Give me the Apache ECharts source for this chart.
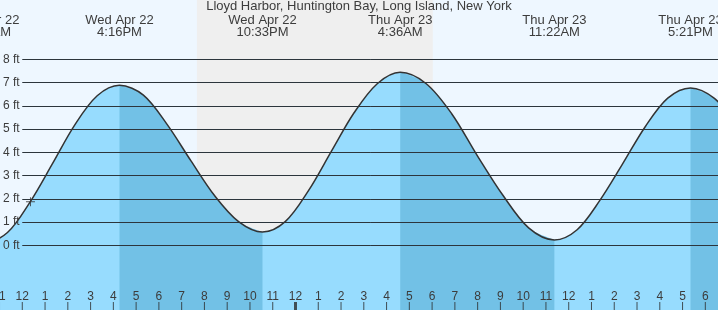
<!DOCTYPE html>
<html><head><meta charset="utf-8">
<script src="https://cdn.jsdelivr.net/npm/echarts@6/dist/echarts.min.js"></script>
<style>html,body{margin:0;padding:0;background:#eef7ff}#c{width:718px;height:310px}</style>
</head><body><div id="c"></div>
<script>
// ---- data (hours counted from 00:00 Wed Apr 22) ----
const chartTitle = 'Lloyd Harbor, Huntington Bay, Long Island, New York';
const tideTimes   = [8.27, 9.32, 10.37, 11.35, 12.34, 13.32, 14.30, 15.29, 16.27, 17.32, 18.36, 19.41, 20.46, 21.50, 22.55, 23.56, 24.57, 25.58, 26.58, 27.59, 28.6, 29.73, 30.86, 31.99, 33.11, 34.24, 35.37, 36.37, 37.36, 38.36, 39.36, 40.35, 41.35, 42.4, 43.4];
const tideHeights = [1.82, 0.58, 0.12, 0.55, 1.86, 3.50, 5.17, 6.43, 6.88, 6.46, 5.20, 3.63, 2.12, 1.02, 0.57, 1.03, 2.35, 4.05, 5.71, 6.95, 7.44, 6.96, 5.66, 3.85, 2.15, 0.75, 0.23, 0.67, 1.92, 3.49, 5.10, 6.33, 6.77, 6.32, 5.17];
const extremeTimes   = [10.37, 16.27, 22.55, 28.6, 35.37, 41.35];
const extremeHeights = [0.12, 6.88, 0.57, 7.44, 0.23, 6.77];
const extremeTypes   = ['low', 'high', 'low', 'high', 'low', 'high'];
const extremeLabels  = ['Wed Apr 22\n10:22AM', 'Wed Apr 22\n4:16PM', 'Wed Apr 22\n10:33PM', 'Thu Apr 23\n4:36AM', 'Thu Apr 23\n11:22AM', 'Thu Apr 23\n5:21PM'];
const hourTicks = [9,10,11,12,13,14,15,16,17,18,19,20,21,22,23,24,25,26,27,28,29,30,31,32,33,34,35,36,37,38,39,40,41,42];
const midnightTicks = [24];
const feetTicks = [0, 1, 2, 3, 4, 5, 6, 7, 8];
const nightStart = 19.67, nightEnd = 30.03;
const nowTime = 12.36, nowHeight = 1.87;
const gridLineStart = 12;

// ---- view ----
const xMin = 8.386, xMax = 42.557, yMin = -2.783, yMax = 10.55;
const TICK_PX = 8;
const FONT = 'Liberation Sans, Arial, sans-serif';
const TXT = '#3c3c3c';
const SMOOTH = 0.33;

const curve = tideTimes.map((t, i) => [t, tideHeights[i]]);
const fallingRanges = [];
extremeTimes.forEach((t, i) => {
  if (extremeTypes[i] === 'high') fallingRanges.push([t, i + 1 < extremeTimes.length ? extremeTimes[i + 1] : 99]);
});
const inFalling = t => fallingRanges.some(r => t >= r[0] - 1e-9 && t <= r[1] + 1e-9);
const fallingCurve = curve.map(p => inFalling(p[0]) ? p : [p[0], '-']);

const hourFmt = v => { const h = Math.round(v) % 12; return String(h === 0 ? 12 : h); };
const extremeFmt = v => { const i = extremeTimes.findIndex(t => Math.abs(t - v) < 1e-6); return i >= 0 ? extremeLabels[i] : ''; };

const chart = echarts.init(document.getElementById('c'), null, {renderer: 'canvas'});
chart.setOption({
  animation: false,
  backgroundColor: '#eef7ff',
  title: {text: chartTitle, left: 'center', top: 0, padding: 0, z: 20,
    textStyle: {fontSize: 13, fontWeight: 'normal', color: TXT, fontFamily: FONT}},
  grid: {left: -60, right: 0, top: 0, bottom: 0, outerBoundsMode: 'none', containLabel: false},
  xAxis: [
    {type: 'value', min: xMin, max: xMax, position: 'bottom', z: 20,
      axisLine: {show: false, onZero: false}, splitLine: {show: false}, axisTick: {show: false},
      axisLabel: {show: true, inside: true, margin: 7, customValues: hourTicks, formatter: hourFmt,
        color: TXT, fontSize: 12, fontFamily: FONT, hideOverlap: false}},
    {type: 'value', min: xMin, max: xMax, position: 'top', z: 20,
      axisLine: {show: false, onZero: false}, splitLine: {show: false}, axisTick: {show: false},
      axisLabel: {show: true, inside: true, margin: 14, customValues: extremeTimes, formatter: extremeFmt,
        color: TXT, fontSize: 13, lineHeight: 12, fontFamily: FONT, align: 'center', hideOverlap: false}}
  ],
  yAxis: {type: 'value', min: yMin, max: yMax, z: 20,
    axisLine: {show: false, onZero: false}, axisTick: {show: false}, splitLine: {show: false},
    axisLabel: {show: true, inside: true, margin: 63, customValues: feetTicks, formatter: v => v + ' ft',
      color: TXT, fontSize: 12, fontFamily: FONT}},
  series: [
    {type: 'line', data: [], z: 1, silent: true,
      markArea: {silent: true, itemStyle: {color: '#efefef'}, data: [[{xAxis: nightStart}, {xAxis: nightEnd}]]},
      markLine: {silent: true, symbol: ['none', 'none'], label: {show: false},
        lineStyle: {color: '#333', width: 1, type: 'solid'},
        data: feetTicks.map(v => [{coord: [gridLineStart, v]}, {coord: [xMax, v]}])}},
    {type: 'line', data: curve, z: 2, smooth: SMOOTH, showSymbol: false, silent: true,
      lineStyle: {width: 0}, areaStyle: {color: '#97dcfe', opacity: 1, origin: 'start'}},
    {type: 'line', data: fallingCurve, z: 3, smooth: SMOOTH, showSymbol: false, silent: true,
      connectNulls: false, lineStyle: {width: 0}, areaStyle: {color: '#72c1e6', opacity: 1, origin: 'start'}},
    {type: 'line', data: [], z: 4, silent: true,
      markLine: {silent: true, symbol: ['none', 'none'], label: {show: false},
        lineStyle: {color: 'rgba(0,70,120,0.13)', width: 1, type: 'solid'},
        data: feetTicks.map(v => [{coord: [gridLineStart, v]}, {coord: [xMax, v]}])}},
    {type: 'line', data: curve, z: 5, smooth: SMOOTH, showSymbol: false, silent: true,
      lineStyle: {color: '#333', width: 1.5}},
    {type: 'scatter', data: hourTicks.map(t => [t, yMin]), z: 6, silent: true, clip: false,
      symbol: 'rect', itemStyle: {color: '#2a2a2a'},
      symbolSize: (val) => [midnightTicks.indexOf(val[0]) >= 0 ? 3 : 1, TICK_PX * 2]},
    {type: 'scatter', data: [[nowTime, nowHeight]], z: 7, silent: true,
      symbol: 'path://M4,0H5V4H9V5H5V9H4V5H0V4H4Z', symbolSize: 9, itemStyle: {color: '#333'}}
  ]
});
</script></body></html>
